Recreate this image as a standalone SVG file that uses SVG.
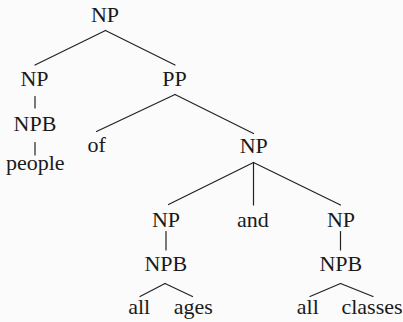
<svg xmlns="http://www.w3.org/2000/svg" width="403" height="322" viewBox="0 0 403 322" font-family="Liberation Serif" font-size="22">
  <style>
    svg { font-family: 'Liberation Serif', 'Noto Serif', serif; }
    .edge { stroke: #222; stroke-width: 1.2; fill: none; stroke-linecap: round; }
    .lbl { font-family: 'Liberation Serif', 'Noto Serif', serif; font-size: 22px; fill: #1a1a1a; text-anchor: middle; }
  </style>
  <rect width="403" height="322" fill="#fbfbfb"/>

  <!-- tree branches -->
  <g id="edges">
    <line class="edge" x1="105.5" y1="30.5" x2="35" y2="65"/>
    <line class="edge" x1="105.5" y1="30.5" x2="175" y2="65"/>
    <line class="edge" x1="35" y1="96.5" x2="35" y2="108"/>
    <line class="edge" x1="35" y1="142.5" x2="35" y2="155"/>
    <line class="edge" x1="175" y1="94.5" x2="96.5" y2="131.5"/>
    <line class="edge" x1="175" y1="94.5" x2="253.5" y2="133.5"/>
    <line class="edge" x1="253.5" y1="162.5" x2="168.5" y2="204.5"/>
    <line class="edge" x1="253.5" y1="162.5" x2="253.5" y2="205"/>
    <line class="edge" x1="253.5" y1="162.5" x2="340.5" y2="205"/>
    <line class="edge" x1="166" y1="231.5" x2="166" y2="250"/>
    <line class="edge" x1="340.5" y1="231.5" x2="340.5" y2="250"/>
    <line class="edge" x1="165" y1="283.5" x2="140" y2="296.5"/>
    <line class="edge" x1="165" y1="283.5" x2="192.5" y2="296.5"/>
    <line class="edge" x1="340.5" y1="283.5" x2="310" y2="296.5"/>
    <line class="edge" x1="340.5" y1="283.5" x2="373" y2="296.5"/>
  </g>

  <!-- constituent labels -->
  <g id="np-root"><text class="lbl" x="105" y="21.5">NP</text></g>
  <g id="np-people"><text class="lbl" x="34.5" y="86">NP</text></g>
  <g id="pp"><text class="lbl" x="174.5" y="86">PP</text></g>
  <g id="npb-people"><text class="lbl" x="35" y="130.5">NPB</text></g>
  <g id="word-people"><text class="lbl" x="35.3" y="170">people</text></g>
  <g id="word-of"><text class="lbl" x="96.7" y="151.5">of</text></g>
  <g id="np-coord"><text class="lbl" x="253.8" y="153">NP</text></g>
  <g id="np-ages"><text class="lbl" x="166" y="227">NP</text></g>
  <g id="word-and"><text class="lbl" x="253" y="227">and</text></g>
  <g id="np-classes"><text class="lbl" x="341" y="227">NP</text></g>
  <g id="npb-ages"><text class="lbl" x="165.8" y="271">NPB</text></g>
  <g id="npb-classes"><text class="lbl" x="340.8" y="271">NPB</text></g>
  <g id="word-all-1"><text class="lbl" x="139.2" y="313.5">all</text></g>
  <g id="word-ages"><text class="lbl" x="193.3" y="313.5">ages</text></g>
  <g id="word-all-2"><text class="lbl" x="307.8" y="313.5">all</text></g>
  <g id="word-classes"><text class="lbl" x="372" y="313.5">classes</text></g>
</svg>
